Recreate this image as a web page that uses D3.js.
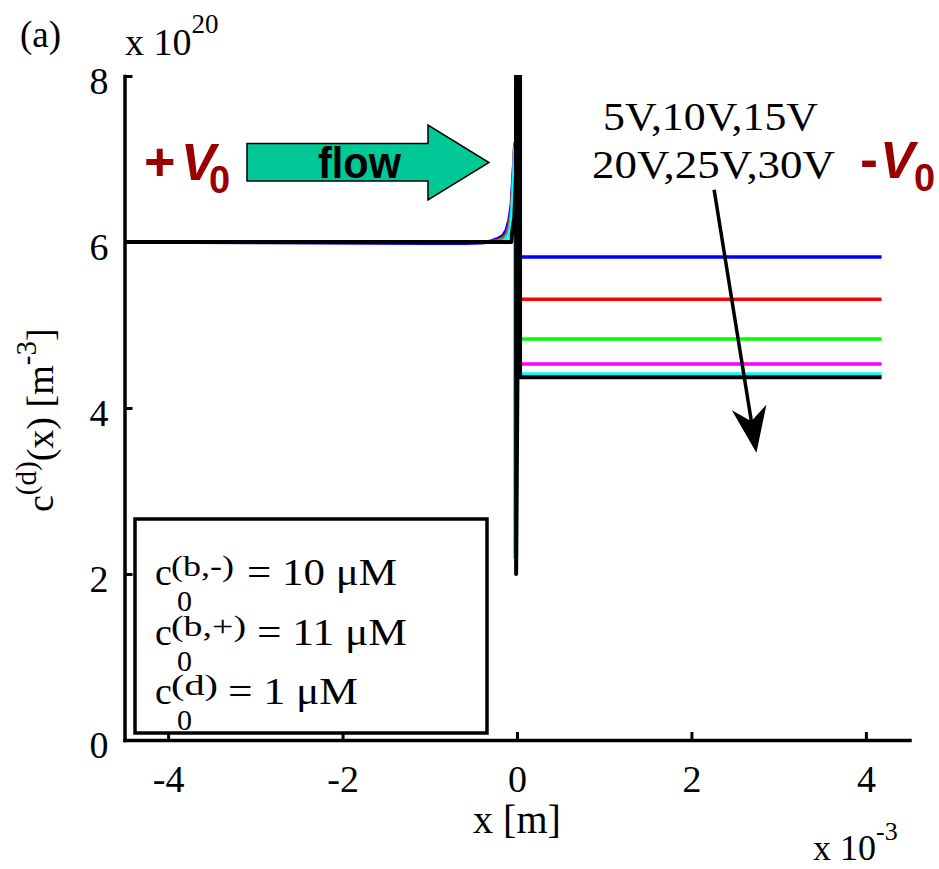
<!DOCTYPE html>
<html lang="en">
  <head>
    <meta charset="UTF-8" />
    <title>c(d)(x) profiles</title>
    <script src="https://cdn.jsdelivr.net/npm/d3@7"></script>
    <style>
      body { margin: 0; background: #fff; }
      svg text { font-family: "Liberation Serif", "Times New Roman", serif; fill: #000; }
      svg text.sans { font-family: "Liberation Sans", Arial, sans-serif; font-weight: bold; }
    </style>
  </head>
  <body>
    <svg width="939" height="869"></svg>

    <script>
      // x in units of 1e-3 m, c in units of 1e20 m^-3
      var xTicks = [-4, -2, 0, 2, 4];
      var yTicks = [0, 2, 4, 6, 8];
      var voltages = ["5V", "10V", "15V", "20V", "25V", "30V"];
      var colors = ["#0000ff", "#ff0000", "#00ff00", "#ff00ff", "#00ffff", "#000000"];

      // boundary layer on the + side, before the membrane at x = 0
      var layerX = [-4.5, -1.0, -0.6, -0.4, -0.3, -0.22, -0.16, -0.12, -0.09, -0.065, -0.045, -0.025];
      var layer5V = [6.0, 5.985, 5.985, 5.99, 6.01, 6.04, 6.08, 6.15, 6.27, 6.45, 6.8, 7.15];
      var layer10V = [6.0, 6.0, 6.0, 6.0, 6.005, 6.02, 6.05, 6.1, 6.2, 6.38, 6.72, 7.16];
      var layer15V = [6.0, 6.0, 6.0, 6.0, 6.0, 6.01, 6.03, 6.07, 6.15, 6.32, 6.66, 7.17];
      var layer20V = [6.0, 6.0, 6.0, 6.0, 6.0, 6.005, 6.02, 6.05, 6.12, 6.28, 6.62, 7.19];
      var layer25V = [6.0, 6.0, 6.0, 6.0, 6.0, 6.0, 6.01, 6.04, 6.1, 6.25, 6.58, 7.12];
      var dropMin = [2.6, 2.5, 2.4, 2.3, 2.2];
      var rightLevel = [5.82, 5.31, 4.83, 4.53, 4.41, 4.37];
      var rightEndX = 4.18;

      // 30V curve, spike at the membrane
      var blackX = [-4.5, -0.065, -0.055, -0.03, -0.012, -0.01, -0.01, 0.035, 0.035, 4.18];
      var blackY = [6.0, 6.0, 6.12, 6.3, 6.8, 9.0, 2.0, 9.0, 4.37, 4.37];

      var legendRows = [
        { sup: "(b,-)", rest: "= 10 \u03bcM" },
        { sup: "(b,+)", rest: "= 11 \u03bcM" },
        { sup: "(d)", rest: "= 1 \u03bcM" },
      ];

      var svg = d3.select("svg");
      var x = d3.scaleLinear().domain([-4.5, 4.5]).range([124.5, 909.5]);
      var y = d3.scaleLinear().domain([0, 8]).range([740, 76]);

      svg.append("defs").append("clipPath").attr("id", "plot")
        .append("rect")
        .attr("x", x(-4.5)).attr("y", y(8) - 1)
        .attr("width", x(4.5) - x(-4.5)).attr("height", y(0) - y(8) + 1);

      var layers = [layer5V, layer10V, layer15V, layer20V, layer25V];
      var series = layers.map(function (vals, i) {
        var pts = layerX.map(function (xv, j) { return [xv, vals[j]]; });
        var xd = layerX[layerX.length - 1];
        pts.push([xd, dropMin[i]]);
        pts.push([xd, rightLevel[i]]);
        pts.push([rightEndX, rightLevel[i]]);
        return pts;
      });
      series.push(blackX.map(function (xv, j) { return [xv, blackY[j]]; }));

      var line = d3.line()
        .x(function (d) { return x(d[0]); })
        .y(function (d) { return y(d[1]); });

      svg.append("g").attr("clip-path", "url(#plot)")
        .selectAll("path")
        .data(series)
        .enter()
        .append("path")
        .attr("d", line)
        .attr("fill", "none")
        .attr("stroke", function (d, i) { return colors[i]; })
        .attr("stroke-width", function (d, i) { return i === 5 ? 4 : 3.5; })
        .attr("stroke-linejoin", "round");

      // axes, matlab style ticks inside
      var fmt = function (d) { return String(d); };
      var gx = svg.append("g")
        .attr("transform", "translate(0," + y(0) + ")")
        .call(d3.axisBottom(x).tickValues(xTicks).tickFormat(fmt).tickSizeInner(-8).tickSizeOuter(0).tickPadding(25));
      var gy = svg.append("g")
        .attr("transform", "translate(" + x(-4.5) + ",0)")
        .call(d3.axisLeft(y).tickValues(yTicks).tickFormat(fmt).tickSizeInner(-8).tickSizeOuter(0).tickPadding(16));
      [gx, gy].forEach(function (g) {
        g.attr("font-family", null).attr("font-size", null);
        g.select(".domain").attr("stroke-width", 3.5).attr("stroke-linecap", "square");
        g.selectAll(".tick line").attr("stroke-width", 3);
        g.selectAll(".tick text").attr("font-size", 38)
          .style("font-family", "'Liberation Serif', 'Times New Roman', serif");
      });
      gy.selectAll(".tick text").attr("dy", "0.45em");

      // axis labels
      svg.append("text").attr("x", 517).attr("y", 833).attr("text-anchor", "middle")
        .attr("font-size", 40).text("x [m]");

      var ex = svg.append("text").attr("x", 813).attr("y", 860).attr("font-size", 36);
      ex.append("tspan").text("x 10");
      ex.append("tspan").attr("dy", -20).attr("font-size", 26).text("-3");

      var ey = svg.append("text").attr("x", 125).attr("y", 55).attr("font-size", 38);
      ey.append("tspan").text("x 10");
      ey.append("tspan").attr("dy", -22).attr("font-size", 27).text("20");

      svg.append("text").attr("x", 20).attr("y", 47).attr("font-size", 37).text("(a)");

      var yl = svg.append("text")
        .attr("transform", "translate(53,512) rotate(-90)")
        .attr("font-size", 38);
      yl.append("tspan").text("c");
      yl.append("tspan").attr("dy", -17).attr("font-size", 29).text("(d)");
      yl.append("tspan").attr("dy", 17).text("(x) [m");
      yl.append("tspan").attr("dy", -17).attr("font-size", 29).text("-3");
      yl.append("tspan").attr("dy", 17).text("]");

      // legend box with bulk concentrations
      svg.append("rect")
        .attr("x", 135).attr("y", 519).attr("width", 352).attr("height", 214)
        .attr("fill", "#fff").attr("stroke", "#000").attr("stroke-width", 3.5);
      var rowBase = [585, 645, 704];
      var supW = [63, 75, 47];
      var restX = [247, 257, 228];
      var restW = [150, 150, 130];
      legendRows.forEach(function (r, i) {
        var b = rowBase[i];
        svg.append("text").attr("x", 155).attr("y", b).attr("font-size", 38).text("c");
        svg.append("text").attr("x", 171).attr("y", b - 9).attr("font-size", 30)
          .attr("textLength", supW[i]).attr("lengthAdjust", "spacingAndGlyphs").text(r.sup);
        svg.append("text").attr("x", 177).attr("y", b + 26).attr("font-size", 30).text("0");
        svg.append("text").attr("x", restX[i]).attr("y", b).attr("font-size", 38)
          .attr("textLength", restW[i]).attr("lengthAdjust", "spacingAndGlyphs").text(r.rest);
      });

      // voltage list and trend arrow
      svg.append("text").attr("x", 603).attr("y", 130).attr("font-size", 40)
        .attr("textLength", 215).attr("lengthAdjust", "spacingAndGlyphs")
        .text(voltages.slice(0, 3).join(","));
      svg.append("text").attr("x", 592).attr("y", 178).attr("font-size", 40)
        .attr("textLength", 243).attr("lengthAdjust", "spacingAndGlyphs")
        .text(voltages.slice(3).join(","));

      var a0 = [x(2.26), y(6.63)], a1 = [x(2.745), y(3.46)];
      var dx = a1[0] - a0[0], dy = a1[1] - a0[1], len = Math.sqrt(dx * dx + dy * dy);
      var ux = dx / len, uy = dy / len, headL = 46, headW = 17.5, notch = 32;
      var bx = a1[0] - ux * headL, by = a1[1] - uy * headL;
      var nx = a1[0] - ux * notch, ny = a1[1] - uy * notch;
      svg.append("line")
        .attr("x1", a0[0]).attr("y1", a0[1]).attr("x2", nx).attr("y2", ny)
        .attr("stroke", "#000").attr("stroke-width", 3.5);
      svg.append("path")
        .attr("d", "M" + a1 + "L" + [bx - uy * headW, by + ux * headW] + "L" + [nx, ny] +
          "L" + [bx + uy * headW, by - ux * headW] + "Z")
        .attr("fill", "#000");

      // flow arrow
      var flow = [[247, 143.5], [428, 143.5], [428, 125], [489, 162.5], [428, 200], [428, 181], [247, 181]];
      svg.append("polygon")
        .attr("points", flow.join(" "))
        .attr("fill", "#00c896").attr("stroke", "#000").attr("stroke-width", 1.5);
      svg.append("text").attr("class", "sans").attr("x", 318).attr("y", 178)
        .attr("font-size", 44).attr("textLength", 83).attr("lengthAdjust", "spacingAndGlyphs")
        .text("flow");

      // electrode potentials
      var dark = "#9b0000";
      function potential(sign, xs, xv, x0, base) {
        svg.append("text").attr("class", "sans").attr("x", xs).attr("y", base)
          .attr("font-size", 54).style("fill", dark).text(sign);
        svg.append("text").attr("class", "sans").attr("x", xv).attr("y", base)
          .attr("font-size", 52).style("font-style", "italic").style("fill", dark).text("V");
        svg.append("text").attr("class", "sans").attr("x", x0).attr("y", base + 13)
          .attr("font-size", 38).style("fill", dark).text("0");
      }
      potential("+", 144, 181, 209, 180);
      potential("-", 860, 880, 914, 178);
    </script>
  </body>
</html>
